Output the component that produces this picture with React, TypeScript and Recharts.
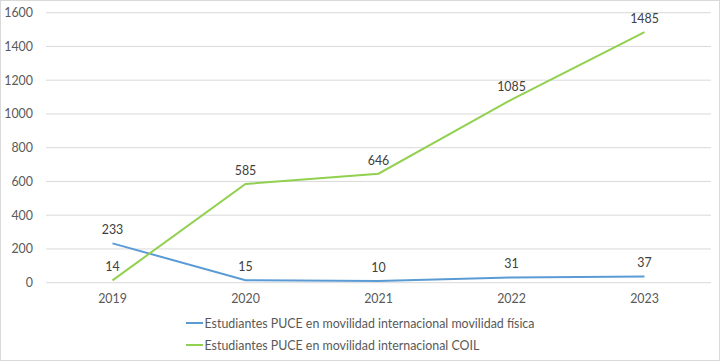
import React from 'react';
import { LineChart, Line, XAxis, YAxis, CartesianGrid, Legend, LabelList } from 'recharts';

const years = ['2019', '2020', '2021', '2022', '2023'];
const fisica = [233, 15, 10, 31, 37];
const coil = [14, 585, 646, 1085, 1485];
const yTicks = [0, 200, 400, 600, 800, 1000, 1200, 1400, 1600];
const seriesNames = [
  'Estudiantes PUCE en movilidad internacional movilidad física',
  'Estudiantes PUCE en movilidad internacional COIL',
];
const colors = ['#5B9BD5', '#92D050'];

const data = years.map((y, i) => ({ year: y, fisica: fisica[i], coil: coil[i] }));

const FONT = 'Lato, "Noto Sans", sans-serif';
const FS = 12.4;

const LegendContent = (props: any) => {
  const payload = [...(props.payload || [])].sort(
    (a: any, b: any) => seriesNames.indexOf(a.value) - seriesNames.indexOf(b.value)
  );
  return (
    <div style={{ textAlign: 'center', fontFamily: FONT }}>
      <div style={{ display: 'inline-block', textAlign: 'left' }}>
        {payload.map((p: any) => (
          <div key={p.value} style={{ display: 'flex', alignItems: 'center', height: 22 }}>
            <span style={{ display: 'inline-block', width: 17, height: 2, background: p.color, marginRight: 2 }} />
            <span style={{ fontSize: FS, color: '#595959', whiteSpace: 'nowrap' }}>{p.value}</span>
          </div>
        ))}
      </div>
    </div>
  );
};

export default function App() {
  return (
    <div style={{ position: 'relative', width: 720, height: 361, background: '#fff' }}>
      <style>{`body{margin:0}`}</style>
      <LineChart
        width={720}
        height={361}
        data={data}
        margin={{ top: 12.7, right: 9, bottom: 5, left: 0 }}
        style={{ fontFamily: FONT }}
      >
        <CartesianGrid vertical={false} stroke="#d9d9d9" strokeWidth={1} />
        <XAxis
          dataKey="year"
          axisLine={false}
          tickLine={false}
          tickSize={0}
          tickMargin={11}
          height={29.3}
          padding={{ left: 66.5, right: 66.5 }}
          tick={{ fill: '#595959', fontSize: FS, fontFamily: FONT }}
          interval={0}
        />
        <YAxis
          domain={[0, 1600]}
          ticks={yTicks}
          width={46}
          axisLine={false}
          tickLine={false}
          tickSize={0}
          tickMargin={13}
          tick={{ fill: '#595959', fontSize: FS, fontFamily: FONT }}
          interval={0}
        />
        <Legend verticalAlign="bottom" content={<LegendContent />} wrapperStyle={{ left: 0, width: 720 }} />
        <Line
          type="linear"
          dataKey="fisica"
          name={seriesNames[0]}
          stroke={colors[0]}
          strokeWidth={2}
          dot={false}
          isAnimationActive={false}
        >
          <LabelList dataKey="fisica" position="top" offset={9} fill="#404040" fontSize={FS} fontFamily={FONT} />
        </Line>
        <Line
          type="linear"
          dataKey="coil"
          name={seriesNames[1]}
          stroke={colors[1]}
          strokeWidth={2}
          dot={false}
          isAnimationActive={false}
        >
          <LabelList dataKey="coil" position="top" offset={9} fill="#404040" fontSize={FS} fontFamily={FONT} />
        </Line>
      </LineChart>
      <div
        style={{
          position: 'absolute',
          left: 0,
          top: 0,
          width: 720,
          height: 361,
          boxSizing: 'border-box',
          border: '1px solid #d9d9d9',
          pointerEvents: 'none',
        }}
      />
    </div>
  );
}
